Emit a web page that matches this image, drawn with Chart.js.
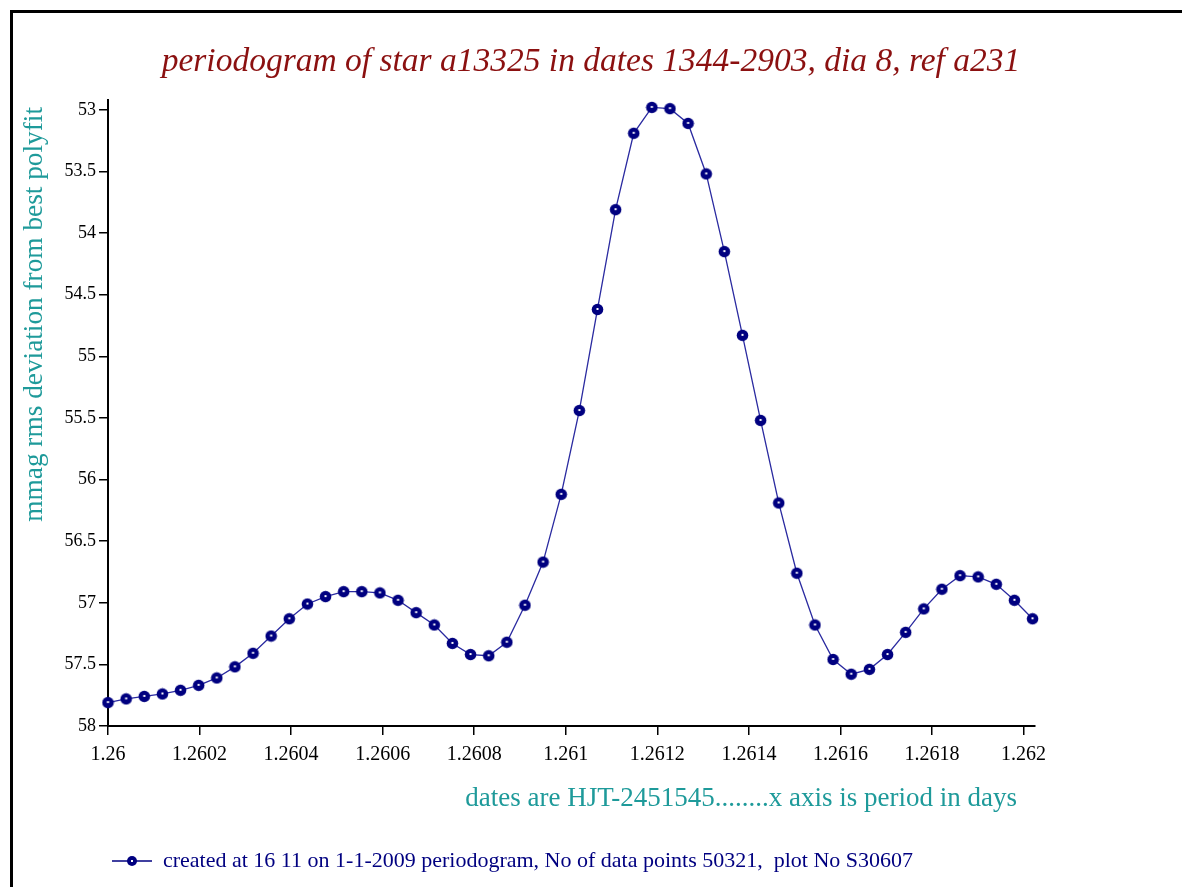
<!DOCTYPE html>
<html>
<head>
<meta charset="utf-8">
<script src="https://cdn.jsdelivr.net/npm/chart.js@4/dist/chart.umd.min.js"></script>
<style>
  html, body { margin: 0; padding: 0; background: #fff; overflow: hidden; }
  #wrap { position: relative; width: 1182px; height: 887px; }
  #frame { position: absolute; left: 10px; top: 10px; width: 1200px; height: 900px; border: 3px solid #000; box-sizing: border-box; }
  #chart { position: absolute; left: 0; top: 0; }
</style>
</head>
<body>
<div id="wrap">
  <div id="frame"></div>
  <canvas id="chart" width="1182" height="887"></canvas>
</div>
<script>
// periode (hari) tiap titik periodogram
const periods = [
  1.26, 1.2600396, 1.2600792, 1.2601188, 1.2601584, 1.260198, 1.2602376, 1.2602772,
  1.2603168, 1.2603564, 1.260396, 1.2604356, 1.2604752, 1.2605148, 1.2605544, 1.260594,
  1.2606336, 1.2606732, 1.2607128, 1.2607524, 1.260792, 1.2608316, 1.2608712, 1.2609108,
  1.2609504, 1.26099, 1.2610296, 1.2610692, 1.2611088, 1.2611484, 1.261188, 1.2612276,
  1.2612672, 1.2613068, 1.2613464, 1.261386, 1.2614256, 1.2614652, 1.2615048, 1.2615444,
  1.261584, 1.2616236, 1.2616632, 1.2617028, 1.2617424, 1.261782, 1.2618216, 1.2618612,
  1.2619008, 1.2619404, 1.26198, 1.2620196
];

// rms deviation (mmag)
const rmsValues = [
  57.81, 57.78, 57.76, 57.74, 57.71, 57.67, 57.61, 57.52,
  57.41, 57.27, 57.13, 57.01, 56.95, 56.91, 56.91, 56.92,
  56.98, 57.08, 57.18, 57.33, 57.42, 57.43, 57.32, 57.02,
  56.67, 56.12, 55.44, 54.62, 53.81, 53.19, 52.98, 52.99,
  53.11, 53.52, 54.15, 54.83, 55.52, 56.19, 56.76, 57.18,
  57.46, 57.58, 57.54, 57.42, 57.24, 57.05, 56.89, 56.78,
  56.79, 56.85, 56.98, 57.13
];

const xTicks = [1.26, 1.2602, 1.2604, 1.2606, 1.2608, 1.261, 1.2612, 1.2614, 1.2616, 1.2618, 1.262];
const yTicks = [53, 53.5, 54, 54.5, 55, 55.5, 56, 56.5, 57, 57.5, 58];

const chartTitle = "periodogram of star a13325 in dates 1344-2903, dia 8, ref a231";
const xTitle = "dates are HJT-2451545........x axis is period in days";
const yTitle = "mmag rms deviation from best polyfit";
const seriesLabel = "created at 16 11 on 1-1-2009 periodogram, No of data points 50321,  plot No S30607";

const SERIF = "'Liberation Serif', 'Times New Roman', serif";
const NAVY = "#000080";
const TEAL = "#1e9a9a";

// titik bulat dengan kilau putih kecil
function makeDot() {
  const c = document.createElement("canvas");
  c.width = 13; c.height = 13;
  const g = c.getContext("2d");
  g.fillStyle = NAVY;
  g.beginPath(); g.arc(6.5, 6.5, 5.8, 0, Math.PI * 2); g.fill();
  g.fillStyle = "#ffffff";
  g.fillRect(5.5, 5, 2, 2);
  return c;
}

// simbol legenda: garis dengan titik
function makeLegendMark() {
  const c = document.createElement("canvas");
  c.width = 40; c.height = 12;
  const g = c.getContext("2d");
  g.strokeStyle = NAVY; g.lineWidth = 1.5;
  g.beginPath(); g.moveTo(0, 6); g.lineTo(40, 6); g.stroke();
  g.fillStyle = NAVY;
  g.beginPath(); g.arc(20, 6, 5, 0, Math.PI * 2); g.fill();
  g.fillStyle = "#fff";
  g.fillRect(19, 5, 2, 2);
  return c;
}

// judul utama dan judul sumbu digambar manual supaya posisinya pas
const freeText = {
  id: "freeText",
  afterDraw(chart) {
    const ctx = chart.ctx;
    const a = chart.chartArea;
    ctx.save();
    ctx.textBaseline = "middle";

    ctx.font = "italic 33.5px " + SERIF;
    ctx.fillStyle = "#8b1010";
    ctx.textAlign = "center";
    ctx.fillText(chartTitle, chart.width / 2, 62);

    ctx.font = "27px " + SERIF;
    ctx.fillStyle = TEAL;
    ctx.textAlign = "right";
    ctx.fillText(xTitle, a.right - 18, a.bottom + 73);

    ctx.translate(35, a.top + 7);
    ctx.rotate(-Math.PI / 2);
    ctx.font = "27.3px " + SERIF;
    ctx.textAlign = "right";
    ctx.fillText(yTitle, 0, 0);
    ctx.restore();
  }
};

const dot = makeDot();
const legendMark = makeLegendMark();

const points = periods.map((p, i) => ({ x: p, y: rmsValues[i] }));

new Chart(document.getElementById("chart"), {
  type: "line",
  data: {
    datasets: [{
      label: seriesLabel,
      data: points,
      borderColor: "#2a2aa0",
      borderWidth: 1.3,
      pointStyle: dot,
      pointRadius: 6,
      tension: 0,
      clip: false
    }]
  },
  plugins: [freeText],
  options: {
    responsive: false,
    animation: false,
    layout: { padding: { left: 14, right: 147, top: 100, bottom: 5 } },
    plugins: {
      title: { display: false },
      legend: {
        position: "bottom",
        align: "start",
        fullSize: false,
        labels: {
          color: NAVY,
          font: { family: SERIF, size: 22 },
          usePointStyle: true,
          pointStyleWidth: 40,
          padding: 4,
          generateLabels: (chart) => [{
            text: chart.data.datasets[0].label,
            pointStyle: legendMark,
            fillStyle: NAVY,
            strokeStyle: NAVY,
            fontColor: NAVY,
            lineWidth: 0,
            datasetIndex: 0
          }]
        },
        onClick: null
      },
      tooltip: { enabled: false }
    },
    scales: {
      x: {
        type: "linear",
        min: 1.26,
        max: 1.262025,
        afterBuildTicks: (scale) => { scale.ticks = xTicks.map(v => ({ value: v })); },
        afterFit: (scale) => { scale.height = 120; },
        ticks: {
          color: "#000",
          font: { family: SERIF, size: 20 },
          padding: 8,
          maxRotation: 0,
          autoSkip: false,
          callback: (v) => String(+v.toFixed(4))
        },
        grid: { display: true, drawOnChartArea: false, drawTicks: true, tickLength: 9, color: "#000", lineWidth: 1.5 },
        border: { display: true, color: "#000", width: 2 }
      },
      y: {
        type: "linear",
        reverse: true,
        min: 52.92,
        max: 58,
        afterBuildTicks: (scale) => { scale.ticks = yTicks.map(v => ({ value: v })); },
        afterFit: (scale) => { scale.width = 94; },
        ticks: {
          color: "#000",
          font: { family: SERIF, size: 18 },
          padding: 3,
          autoSkip: false,
          callback: (v) => String(v)
        },
        grid: { display: true, drawOnChartArea: false, drawTicks: true, tickLength: 9, color: "#000", lineWidth: 1.5 },
        border: { display: true, color: "#000", width: 2 }
      }
    }
  }
});
</script>
</body>
</html>
